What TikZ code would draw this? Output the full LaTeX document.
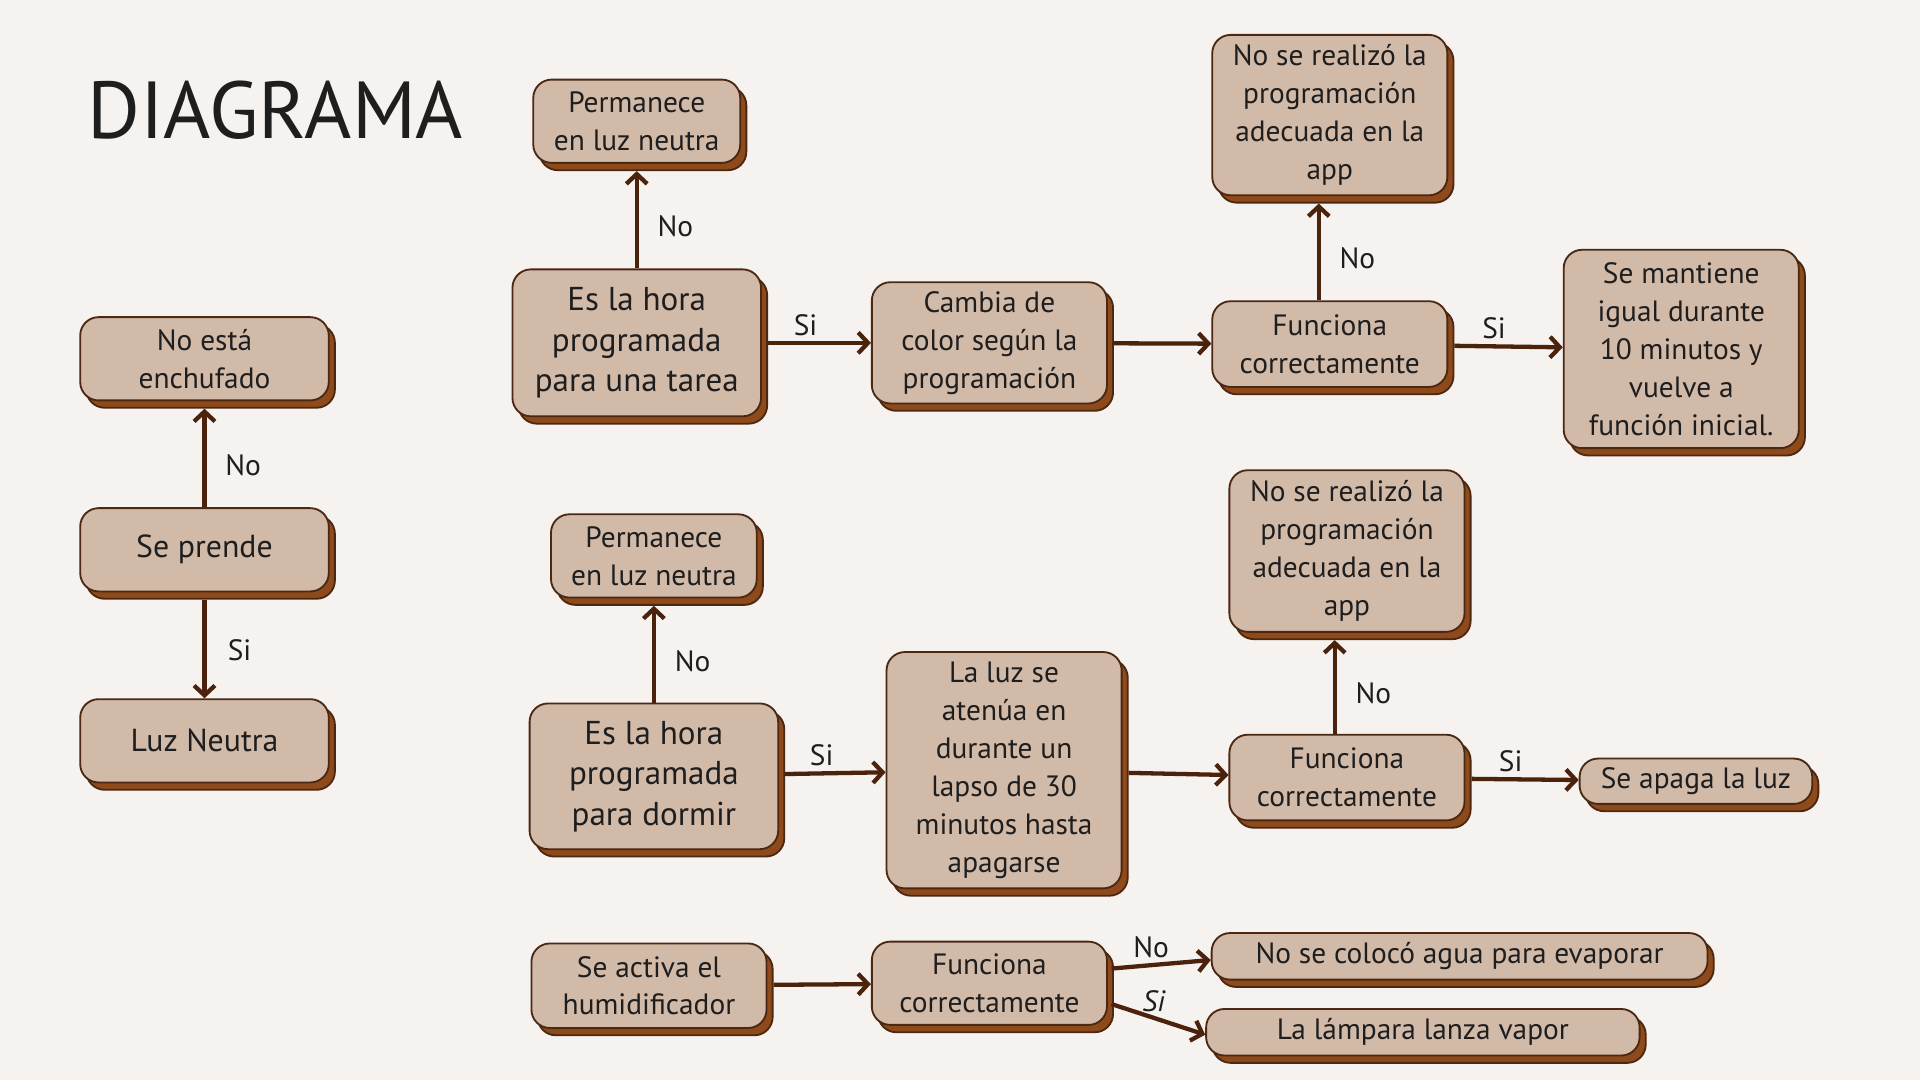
\documentclass[tikz,border=0pt]{standalone}
\usepackage{fontspec}
\setmainfont{PT Sans}
\usetikzlibrary{arrows.meta}
\usetikzlibrary{shadows}

\definecolor{bgcol}{HTML}{F5F2EF}
\definecolor{boxfill}{HTML}{D2BAA9}
\definecolor{boxline}{HTML}{4A2812}
\definecolor{shadefill}{HTML}{8E4A1B}
\definecolor{arrowcol}{HTML}{4B230D}
\definecolor{inkcol}{HTML}{1E1E1E}

\begin{document}
\begin{tikzpicture} [x=1pt, y=-1pt,
        box/.style={draw=boxline, fill=boxfill, line width=1.5pt, rounded corners=15pt,
            align=center, text=inkcol, inner sep=4pt, font=\fontsize{24}{31}\selectfont,
            minimum width=192pt, minimum height=68pt,
            copy shadow={shadow xshift=5pt, shadow yshift=-6pt, fill=shadefill, draw=boxline, line width=1.5pt}},
        bigbox/.style={box, font=\fontsize{27}{33}\selectfont, minimum width=203pt},
        lbl/.style={text=inkcol, font=\fontsize{24}{28}\selectfont},
        every edge/.style={draw=arrowcol, line width=3.5pt, -{Straight Barb[length=8pt,width=17pt]}},
        node distance=156pt ]
    \fill[bgcol] (0,0) rectangle (1568,882);
    \useasboundingbox (0,0) rectangle (1568,882);
    \node[anchor=base west, text=inkcol, font=\fontsize{66}{72}\selectfont] (title) at (68,113) {DIAGRAMA};

    % encendido
    \node[box, minimum width=203pt, font=\fontsize{26}{31}\selectfont] (q2) at (167,449) {Se prende};
    \node[box, minimum width=203pt, above of=q2] (q1) {No está\\enchufado};
    \node[box, minimum width=203pt, font=\fontsize{26}{31}\selectfont, below of=q2] (q3) {Luz Neutra};
    \draw (q2) edge[shorten >=6pt] node[lbl, right=12pt, pos=0.4] {No} (q1);
    \draw (q2) edge[shorten <=6pt] node[lbl, right=14pt, pos=0.55] {Si} (q3);

    % tarea programada
    \node[bigbox, minimum height=120pt] (q5) at (520,280) {Es la hora\\programada\\para una tarea};
    \node[box, minimum width=169pt, above of=q5, node distance=181pt] (q4) {Permanece\\en luz neutra};
    \node[box, minimum height=99pt] (q6) at (808,280) {Cambia de\\color según la\\programación};
    \node[box, minimum height=70pt] (q8) at (1086,281) {Funciona\\correctamente};
    \node[box, minimum height=131pt, above of=q8, node distance=187pt] (q7) {No se realizó la\\programación\\adecuada en la\\app};
    \node[box, minimum height=162pt] (q9) at (1373,285) {Se mantiene\\igual durante\\10 minutos y\\vuelve a\\función inicial.};
    \draw (q5) edge[shorten >=6pt] node[lbl, right=12pt, pos=0.4] {No} (q4);
    \draw (q5) edge[shorten <=5pt] node[lbl, above=1pt, pos=0.4] {Si} (q6);
    \draw (q6) edge[shorten <=5pt] (q8);
    \draw ([xshift=-9pt]q8.north) edge[shorten >=6pt] node[lbl, right=12pt, pos=0.4] {No} ([xshift=-9pt]q7.south);
    \draw (q8) edge[shorten <=5pt] node[lbl, above=1pt, pos=0.4] {Si} (q9);

    % hora de dormir
    \node[bigbox, minimum height=119pt] (q11) at (534,634) {Es la hora\\programada\\para dormir};
    \node[box, minimum width=168pt, above of=q11, node distance=180pt] (q10) {Permanece\\en luz neutra};
    \node[box, minimum height=193pt] (q12) at (820,629) {La luz se\\atenúa en\\durante un\\lapso de 30\\minutos hasta\\apagarse};
    \node[box, minimum height=70pt] (q14) at (1100,635) {Funciona\\correctamente};
    \node[box, minimum height=132pt, above of=q14, node distance=185pt] (q13) {No se realizó la\\programación\\adecuada en la\\app};
    \node[box, minimum width=190pt, minimum height=37pt] (q15) at (1385,638) {Se apaga la luz};
    \draw (q11) edge[shorten >=6pt] node[lbl, right=12pt, pos=0.4] {No} (q10);
    \draw (q11) edge[shorten <=5pt] node[lbl, above=1pt, pos=0.4] {Si} (q12);
    \draw (q12) edge[shorten <=5pt] (q14);
    \draw ([xshift=-10pt]q14.north) edge[shorten >=6pt] node[lbl, right=12pt, pos=0.4] {No} ([xshift=-10pt]q13.south);
    \draw (q14) edge[shorten <=5pt] node[lbl, above=1pt, pos=0.4] {Si} (q15);

    % humidificador
    \node[box, minimum height=69pt] (q16) at (530,805) {Se activa el\\humidificador};
    \node[box] (q17) at (808,803) {Funciona\\correctamente};
    \node[box, minimum width=405pt, minimum height=38pt] (q18) at (1192,781) {No se colocó agua para evaporar};
    \node[box, minimum width=354pt, minimum height=38pt] (q19) at (1162,843) {La lámpara lanza vapor};
    \draw (q16) edge[shorten <=5pt] (q17);
    \draw ([xshift=3pt,yshift=12pt]q17.east) edge node[lbl, above=1pt, pos=0.4] {No} ([yshift=-3pt]q18.west);
    \draw ([xshift=3pt,yshift=-17pt]q17.east) edge node[lbl, above=0pt, pos=0.45, font=\fontsize{24}{28}\selectfont\itshape] {Si} ([yshift=-2pt]q19.west);
\end{tikzpicture}
\end{document}
